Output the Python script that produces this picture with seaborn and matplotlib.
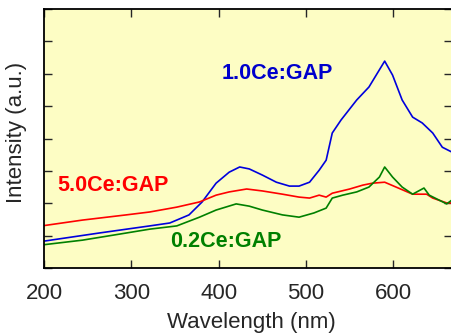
import matplotlib
matplotlib.use("Agg")
import matplotlib.pyplot as plt
import seaborn as sns
import pandas as pd

# 1.0Ce:GAP
blue_x = [200, 263, 321, 344, 366, 381, 397, 412, 424, 435, 450, 466, 481, 492, 504, 515, 523, 530, 540, 558, 572, 590, 599, 610, 622, 633, 645, 656, 667]
blue_y = [0.83, 1.08, 1.30, 1.39, 1.64, 2.04, 2.62, 2.96, 3.12, 3.06, 2.87, 2.65, 2.53, 2.53, 2.65, 3.02, 3.33, 4.17, 4.57, 5.19, 5.59, 6.39, 5.96, 5.19, 4.66, 4.48, 4.17, 3.73, 3.58]
# 5.0Ce:GAP
red_x = [200, 244, 294, 321, 352, 378, 397, 412, 432, 450, 473, 492, 504, 515, 523, 530, 550, 565, 576, 590, 603, 622, 638, 645, 661, 667]
red_y = [1.31, 1.48, 1.64, 1.73, 1.88, 2.04, 2.25, 2.35, 2.44, 2.38, 2.28, 2.19, 2.16, 2.25, 2.19, 2.31, 2.44, 2.56, 2.62, 2.65, 2.50, 2.28, 2.28, 2.16, 2.01, 2.01]
# 0.2Ce:GAP
green_x = [200, 244, 294, 321, 352, 378, 397, 420, 435, 450, 473, 492, 509, 523, 530, 542, 558, 572, 584, 590, 599, 610, 622, 635, 641, 661, 667]
green_y = [0.72, 0.86, 1.08, 1.20, 1.30, 1.57, 1.79, 1.98, 1.91, 1.79, 1.64, 1.57, 1.70, 1.85, 2.16, 2.25, 2.35, 2.50, 2.81, 3.12, 2.81, 2.50, 2.28, 2.47, 2.25, 1.98, 2.10]

series_names = ["1.0Ce:GAP", "5.0Ce:GAP", "0.2Ce:GAP"]
x_ticks = [200, 300, 400, 500, 600]

df = pd.concat([
    pd.DataFrame({"wl": blue_x, "I": blue_y, "s": series_names[0]}),
    pd.DataFrame({"wl": red_x, "I": red_y, "s": series_names[1]}),
    pd.DataFrame({"wl": green_x, "I": green_y, "s": series_names[2]}),
])

sns.set_style("ticks")
plt.rcParams["font.family"] = ["Liberation Sans", "DejaVu Sans"]

colors = {"1.0Ce:GAP": "#0000dd", "5.0Ce:GAP": "#ff0000", "0.2Ce:GAP": "#008000"}

fig = plt.figure(figsize=(4.52, 3.35), dpi=100)
ax = fig.add_axes([44 / 452, (335 - 268) / 335, (451.5 - 44) / 452, (268 - 9) / 335])
ax.set_facecolor("#fdfdc4")

sns.lineplot(data=df, x="wl", y="I", hue="s", palette=colors, ax=ax,
             legend=False, linewidth=1.2, sort=False, estimator=None)

ax.set_xlim(200, 666.5)
ax.set_ylim(0, 8)
ax.set_xticks(x_ticks)
ax.set_xticklabels([str(t) for t in x_ticks], fontsize=16)
ax.set_yticks(range(0, 9))
ax.set_yticklabels([])
ax.tick_params(direction="in", length=6, width=1, top=True, right=True, pad=11)
for sp in ax.spines.values():
    sp.set_linewidth(1.3)
    sp.set_color("black")

ax.set_xlabel("Wavelength (nm)", fontsize=16)
ax.set_ylabel("Intensity (a.u.)", fontsize=16)
ax.xaxis.set_label_coords(0.509, -0.17)
ax.yaxis.set_label_coords(-0.042, 0.525)

ax.text(403, 6.02, series_names[0], color="#0000cc", fontsize=15.5, fontweight="bold", va="center", ha="left")
ax.text(215, 2.56, series_names[1], color="#ff0000", fontsize=15.5, fontweight="bold", va="center", ha="left")
ax.text(344, 0.83, series_names[2], color="#008000", fontsize=15.5, fontweight="bold", va="center", ha="left")

fig.savefig("out.png", dpi=100)
